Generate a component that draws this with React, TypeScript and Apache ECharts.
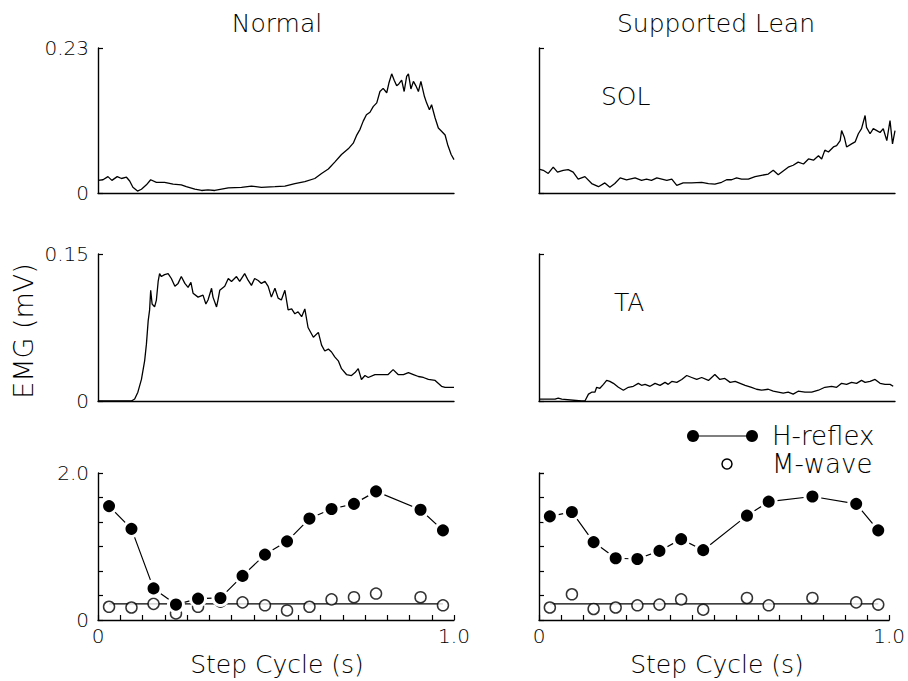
import React, { useEffect, useRef } from "react";
import * as echarts from "echarts";

const FONT = '"DejaVu Sans", sans-serif';
const WEIGHT = 200;

// EMG traces: [time (s), EMG (mV)]
const solNormal: number[][] = [
  [0.000,0.020],[0.014,0.021],[0.028,0.026],[0.039,0.020],[0.054,0.026],[0.066,0.023],[0.080,0.025],[0.089,0.019],
  [0.098,0.009],[0.111,0.003],[0.122,0.006],[0.136,0.013],[0.148,0.021],[0.164,0.017],[0.187,0.017],[0.211,0.014],
  [0.234,0.013],[0.248,0.010],[0.272,0.006],[0.291,0.004],[0.309,0.005],[0.328,0.004],[0.366,0.008],[0.403,0.009],
  [0.431,0.011],[0.459,0.009],[0.497,0.010],[0.525,0.011],[0.553,0.015],[0.581,0.018],[0.609,0.023],[0.628,0.031],
  [0.647,0.038],[0.665,0.049],[0.684,0.061],[0.703,0.070],[0.717,0.079],[0.726,0.091],[0.736,0.101],[0.745,0.114],
  [0.754,0.124],[0.764,0.128],[0.773,0.137],[0.783,0.143],[0.792,0.161],[0.801,0.166],[0.811,0.159],[0.817,0.174],
  [0.825,0.189],[0.832,0.179],[0.839,0.170],[0.845,0.173],[0.853,0.179],[0.860,0.161],[0.867,0.185],[0.872,0.189],
  [0.879,0.165],[0.886,0.177],[0.893,0.170],[0.900,0.161],[0.907,0.177],[0.917,0.153],[0.923,0.143],[0.931,0.132],
  [0.937,0.140],[0.947,0.119],[0.956,0.103],[0.965,0.098],[0.975,0.092],[0.982,0.077],[0.992,0.061],[1.000,0.053],
];

const solLean: number[][] = [
  [0.000,0.038],[0.012,0.036],[0.026,0.031],[0.040,0.041],[0.052,0.033],[0.068,0.036],[0.082,0.037],[0.096,0.033],
  [0.110,0.022],[0.129,0.026],[0.148,0.015],[0.167,0.010],[0.185,0.016],[0.199,0.009],[0.213,0.015],[0.228,0.024],
  [0.246,0.021],[0.270,0.024],[0.288,0.020],[0.302,0.022],[0.316,0.020],[0.331,0.024],[0.345,0.022],[0.359,0.020],
  [0.373,0.022],[0.387,0.012],[0.405,0.016],[0.429,0.016],[0.457,0.017],[0.476,0.015],[0.494,0.014],[0.513,0.017],
  [0.527,0.021],[0.541,0.021],[0.555,0.024],[0.569,0.022],[0.588,0.022],[0.607,0.026],[0.625,0.028],[0.644,0.030],
  [0.658,0.036],[0.672,0.029],[0.686,0.035],[0.700,0.041],[0.714,0.044],[0.728,0.049],[0.743,0.046],[0.757,0.054],
  [0.771,0.052],[0.785,0.059],[0.794,0.054],[0.803,0.068],[0.813,0.065],[0.827,0.073],[0.836,0.075],[0.846,0.083],
  [0.850,0.099],[0.858,0.088],[0.864,0.073],[0.878,0.078],[0.888,0.081],[0.897,0.094],[0.906,0.102],[0.916,0.123],
  [0.920,0.104],[0.930,0.094],[0.939,0.102],[0.949,0.099],[0.958,0.096],[0.967,0.102],[0.977,0.083],[0.986,0.115],
  [0.993,0.078],[1.000,0.099],
];

const taNormal: number[][] = [
  [0.000,0.000],[0.028,0.000],[0.066,0.000],[0.094,0.000],[0.103,0.002],[0.112,0.009],[0.122,0.022],[0.131,0.041],
  [0.136,0.058],[0.141,0.082],[0.145,0.093],[0.148,0.113],[0.152,0.099],[0.159,0.096],[0.164,0.103],[0.169,0.122],
  [0.173,0.130],[0.178,0.127],[0.187,0.129],[0.197,0.130],[0.206,0.125],[0.216,0.117],[0.225,0.120],[0.234,0.127],
  [0.244,0.120],[0.253,0.116],[0.261,0.121],[0.267,0.110],[0.281,0.106],[0.295,0.108],[0.303,0.099],[0.309,0.103],
  [0.319,0.115],[0.323,0.106],[0.333,0.096],[0.337,0.103],[0.342,0.113],[0.356,0.117],[0.366,0.125],[0.375,0.122],
  [0.389,0.127],[0.398,0.122],[0.412,0.130],[0.422,0.123],[0.431,0.118],[0.440,0.125],[0.450,0.123],[0.459,0.120],
  [0.469,0.122],[0.478,0.117],[0.487,0.106],[0.497,0.115],[0.506,0.105],[0.515,0.103],[0.525,0.113],[0.534,0.093],
  [0.544,0.094],[0.553,0.089],[0.562,0.091],[0.572,0.086],[0.581,0.094],[0.590,0.075],[0.605,0.065],[0.619,0.070],
  [0.628,0.057],[0.637,0.051],[0.647,0.053],[0.656,0.050],[0.665,0.045],[0.675,0.041],[0.684,0.033],[0.698,0.027],
  [0.712,0.026],[0.722,0.029],[0.731,0.033],[0.740,0.022],[0.750,0.026],[0.759,0.024],[0.778,0.027],[0.797,0.027],
  [0.815,0.027],[0.829,0.032],[0.843,0.027],[0.858,0.027],[0.872,0.029],[0.886,0.027],[0.900,0.025],[0.914,0.024],
  [0.928,0.022],[0.947,0.021],[0.965,0.015],[0.975,0.014],[0.989,0.014],[1.000,0.014],
];

const taLean: number[][] = [
  [0.000,0.002],[0.017,0.002],[0.045,0.002],[0.054,0.003],[0.064,0.002],[0.120,0.000],[0.129,0.000],[0.139,0.007],
  [0.148,0.009],[0.157,0.009],[0.162,0.014],[0.171,0.013],[0.181,0.017],[0.190,0.021],[0.199,0.020],[0.209,0.018],
  [0.223,0.014],[0.237,0.011],[0.251,0.014],[0.265,0.015],[0.279,0.018],[0.288,0.016],[0.298,0.017],[0.312,0.015],
  [0.326,0.018],[0.340,0.016],[0.354,0.019],[0.363,0.017],[0.373,0.020],[0.387,0.019],[0.401,0.022],[0.415,0.026],
  [0.429,0.024],[0.443,0.022],[0.457,0.024],[0.476,0.021],[0.494,0.027],[0.508,0.022],[0.522,0.023],[0.537,0.019],
  [0.551,0.020],[0.565,0.018],[0.579,0.016],[0.597,0.014],[0.611,0.012],[0.625,0.011],[0.644,0.012],[0.658,0.010],
  [0.672,0.009],[0.686,0.008],[0.700,0.009],[0.714,0.007],[0.728,0.010],[0.747,0.009],[0.766,0.009],[0.785,0.011],
  [0.803,0.014],[0.822,0.015],[0.836,0.014],[0.850,0.018],[0.864,0.017],[0.878,0.019],[0.892,0.018],[0.906,0.021],
  [0.916,0.019],[0.930,0.020],[0.944,0.022],[0.958,0.018],[0.972,0.017],[0.986,0.017],[0.995,0.015],
];

// H-reflex / M-wave amplitudes
const timesNormal = [0.031,0.094,0.156,0.219,0.281,0.344,0.406,0.469,0.531,0.594,0.656,0.719,0.781,0.906,0.969];
const hNormal = [1.55,1.24,0.43,0.21,0.29,0.30,0.60,0.89,1.07,1.38,1.51,1.58,1.75,1.50,1.22];
const mNormal = [0.18,0.17,0.22,0.09,0.18,0.25,0.24,0.20,0.13,0.18,0.28,0.31,0.36,0.31,0.20];
const mMeanNormal = 0.22;

const timesLean = [0.031,0.094,0.156,0.219,0.281,0.344,0.406,0.469,0.594,0.656,0.781,0.906,0.969];
const hLean = [1.41,1.47,1.06,0.84,0.83,0.94,1.10,0.95,1.42,1.61,1.68,1.58,1.22];
const mLean = [0.17,0.35,0.15,0.17,0.20,0.21,0.28,0.14,0.30,0.20,0.30,0.24,0.21];
const mMeanLean = 0.22;

const yMaxSol = 0.23;
const yMaxTa = 0.15;
const yMaxH = 2.0;

export default function App() {
  const ref = useRef<HTMLDivElement>(null);
  useEffect(() => {
    const chart = echarts.init(ref.current!, null, { renderer: "svg" });
    const black = "#000";
    const axisLine = { show: true, onZero: false, lineStyle: { color: black, width: 1.4 } };
    const labelStyle = { color: black, fontFamily: FONT, fontSize: 20, fontWeight: WEIGHT };

    const grids = [
      { left: 98, top: 48, width: 356, height: 145 },
      { left: 539, top: 48, width: 356, height: 145 },
      { left: 98, top: 254, width: 356, height: 147 },
      { left: 539, top: 254, width: 356, height: 147 },
      { left: 98, top: 473, width: 356, height: 147 },
      { left: 539, top: 473, width: 356, height: 147 },
    ];

    const xAxes = grids.map((_, i) => {
      const bottom = i >= 4;
      return {
        type: "value",
        gridIndex: i,
        min: 0,
        max: 1,
        interval: bottom ? 0.0625 : 1,
        axisLine,
        splitLine: { show: false },
        axisTick: { show: bottom, inside: true, length: 5, lineStyle: { color: black, width: 1.2 } },
        axisLabel: {
          show: bottom,
          ...labelStyle,
          margin: 6,
          showMinLabel: true,
          showMaxLabel: true,
          formatter: (v: number) => (v === 0 ? "0" : Math.abs(v - 1) < 1e-6 ? "1.0" : ""),
        },
      };
    });

    const yAxes = grids.map((_, i) => {
      const row = Math.floor(i / 2);
      const left = i % 2 === 0;
      const max = row === 0 ? yMaxSol : row === 1 ? yMaxTa : yMaxH;
      const interval = row === 2 ? yMaxH / 6 : max;
      const topLabel = row === 0 ? "0.23" : row === 1 ? "0.15" : "2.0";
      return {
        type: "value",
        gridIndex: i,
        min: 0,
        max,
        interval,
        axisLine,
        splitLine: { show: false },
        axisTick: { show: true, inside: true, length: 5, lineStyle: { color: black, width: 1.2 } },
        axisLabel: {
          show: left,
          ...labelStyle,
          margin: 9,
          showMinLabel: true,
          showMaxLabel: true,
          formatter: (v: number) => (v < 1e-9 ? "0" : Math.abs(v - max) < 1e-6 ? topLabel : ""),
        },
      };
    });

    const trace = (data: number[][], idx: number) => ({
      type: "line",
      xAxisIndex: idx,
      yAxisIndex: idx,
      data,
      showSymbol: false,
      symbol: "none",
      lineStyle: { color: black, width: 1.3 },
      z: 3,
    });

    const hSeries = (times: number[], vals: number[], idx: number) => ({
      type: "line",
      xAxisIndex: idx,
      yAxisIndex: idx,
      data: times.map((t, k) => [t, vals[k]]),
      symbol: "circle",
      symbolSize: 15,
      showSymbol: true,
      itemStyle: { color: black, borderColor: "#fff", borderWidth: 3 },
      lineStyle: { color: black, width: 1.2 },
      z: 5,
    });

    const mSeries = (times: number[], vals: number[], idx: number) => ({
      type: "scatter",
      xAxisIndex: idx,
      yAxisIndex: idx,
      data: times.map((t, k) => [t, vals[k]]),
      symbol: "circle",
      symbolSize: 11,
      itemStyle: { color: "#fff", borderColor: black, borderWidth: 1.5 },
      z: 4,
    });

    const meanLine = (times: number[], mean: number, idx: number) => ({
      type: "line",
      xAxisIndex: idx,
      yAxisIndex: idx,
      data: [
        [times[0], mean],
        [times[times.length - 1], mean],
      ],
      showSymbol: false,
      symbol: "none",
      lineStyle: { color: black, width: 1.2 },
      z: 2,
    });

    const txt = (text: string, x: number, y: number, size: number, align = "center", extra: any = {}) => ({
      type: "text",
      x,
      y,
      ...extra,
      style: {
        text,
        fill: black,
        font: `${WEIGHT} ${size}px ${FONT}`,
        align,
        verticalAlign: "middle",
      },
    });

    const option = {
      animation: false,
      backgroundColor: "#fff",
      grid: grids,
      xAxis: xAxes,
      yAxis: yAxes,
      series: [
        trace(solNormal, 0),
        trace(solLean, 1),
        trace(taNormal, 2),
        trace(taLean, 3),
        meanLine(timesNormal, mMeanNormal, 4),
        mSeries(timesNormal, mNormal, 4),
        hSeries(timesNormal, hNormal, 4),
        meanLine(timesLean, mMeanLean, 5),
        mSeries(timesLean, mLean, 5),
        hSeries(timesLean, hLean, 5),
      ],
      graphic: [
        txt("Normal", 277, 23, 25),
        txt("Supported Lean", 716, 23, 25),
        txt("SOL", 601, 96, 25, "left"),
        txt("TA", 614, 302, 25, "left"),
        txt("EMG (mV)", 23, 331, 27, "center", { rotation: Math.PI / 2 }),
        txt("Step Cycle (s)", 277, 664, 25),
        txt("Step Cycle (s)", 717, 664, 25),
        { type: "line", shape: { x1: 693, y1: 436, x2: 752, y2: 436 }, style: { stroke: black, lineWidth: 1.2 } },
        { type: "circle", shape: { cx: 693, cy: 436, r: 6 }, style: { fill: black } },
        { type: "circle", shape: { cx: 752, cy: 436, r: 6 }, style: { fill: black } },
        txt("H-reflex", 772, 436, 26, "left"),
        { type: "circle", shape: { cx: 727, cy: 464, r: 5 }, style: { fill: "#fff", stroke: black, lineWidth: 1.5 } },
        txt("M-wave", 772, 464, 26, "left"),
      ],
    };

    chart.setOption(option as any);
    return () => chart.dispose();
  }, []);

  return (
    <div
      ref={ref}
      style={{ position: "absolute", left: 0, top: 0, width: 908, height: 681, background: "#fff" }}
    />
  );
}
